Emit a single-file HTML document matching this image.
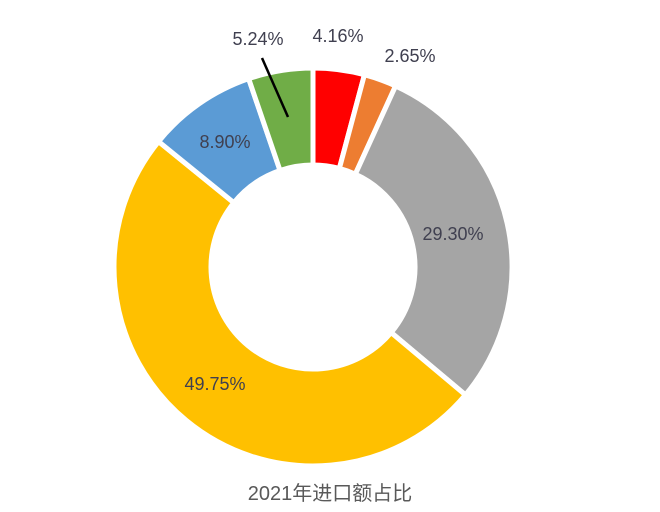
<!DOCTYPE html>
<html><head><meta charset="utf-8"><style>
body{margin:0;background:#fff;}
svg text{font-family:"Liberation Sans","Noto Sans CJK SC",sans-serif;}
</style></head><body>
<svg width="660" height="507" viewBox="0 0 660 507">
<g id="slices"></g>
<g id="labels"></g>
<line x1="262" y1="58" x2="288" y2="117" stroke="#000" stroke-width="2.5"/>
<text x="330" y="500" text-anchor="middle" font-size="20" fill="#595959">2021年进口额占比</text>
</svg>
<script>
const categories = ["red","orange","gray","yellow","blue","green"];
const values = [4.16, 2.65, 29.30, 49.75, 8.90, 5.24];
const labelTexts = ["4.16%","2.65%","29.30%","49.75%","8.90%","5.24%"];
const colors = ["#ff0000","#ed7d31","#a5a5a5","#ffc000","#5b9bd5","#70ad47"];
const labelPos = [[338,42],[410,62],[453,240],[215,390],[225,148],[258,45]];
const cx=313, cy=267, R=199, r=102;
const ns="http://www.w3.org/2000/svg";
const total = values.reduce((a,b)=>a+b,0);
function pt(a,rad){return [cx+rad*Math.sin(a), cy-rad*Math.cos(a)];}
let a0=0;
const gS=document.getElementById('slices'), gL=document.getElementById('labels');
values.forEach((v,i)=>{
  const a1=a0+v/total*2*Math.PI;
  const large=(a1-a0)>Math.PI?1:0;
  const p1=pt(a0,R),p2=pt(a1,R),p3=pt(a1,r),p4=pt(a0,r);
  const p=document.createElementNS(ns,'path');
  p.setAttribute('d',`M${p1[0]},${p1[1]} A${R},${R} 0 ${large} 1 ${p2[0]},${p2[1]} L${p3[0]},${p3[1]} A${r},${r} 0 ${large} 0 ${p4[0]},${p4[1]} Z`);
  p.setAttribute('fill',colors[i]);
  p.setAttribute('stroke','#fff');
  p.setAttribute('stroke-width','5');
  p.setAttribute('stroke-linejoin','miter');
  
  
  gS.appendChild(p);
  const t=document.createElementNS(ns,'text');
  t.setAttribute('x',labelPos[i][0]);t.setAttribute('y',labelPos[i][1]);
  t.setAttribute('text-anchor','middle');t.setAttribute('font-size','18');t.setAttribute('fill','#404050');
  t.textContent=labelTexts[i];
  
  
  gL.appendChild(t);
  a0=a1;
});
</script>
</body></html>
